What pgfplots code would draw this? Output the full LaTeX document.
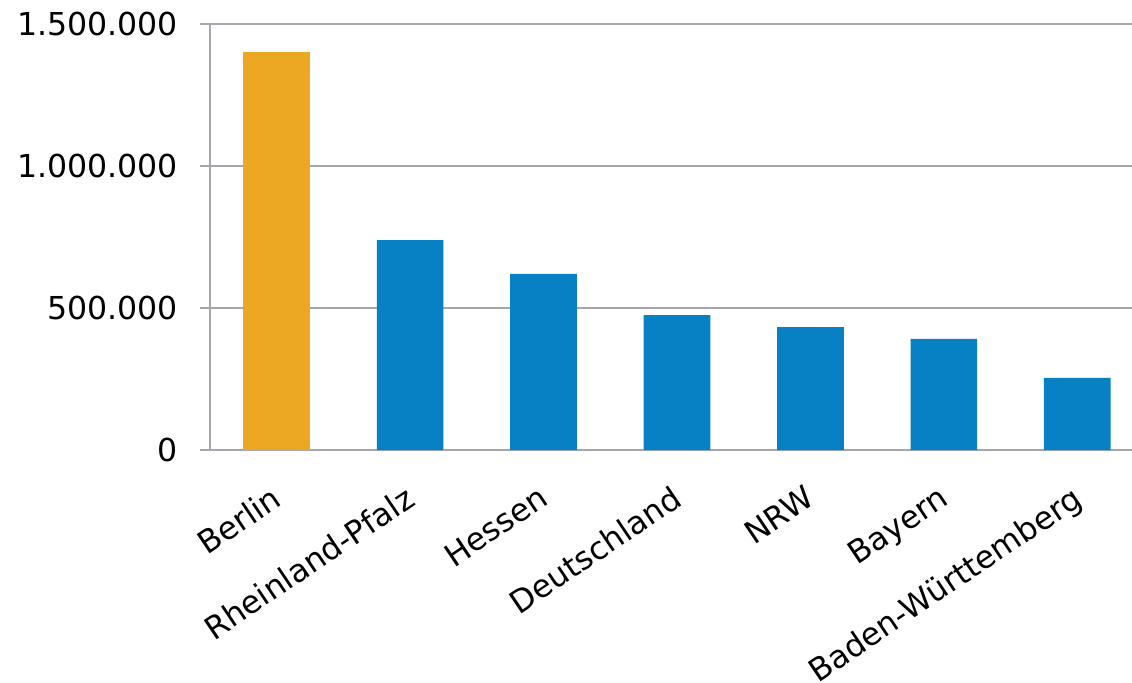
\documentclass[border=0pt]{standalone}
\usepackage{fontspec}
\setmainfont{DejaVu Sans}
\usepackage{pgfplots}
\pgfplotsset{compat=1.18}

\definecolor{barorange}{HTML}{EDA823}
\definecolor{barblue}{HTML}{0781C3}
\definecolor{gridgray}{HTML}{A6A6AE}

\begin{document}
\begin{tikzpicture}
\begin{axis}[
    name=main,
    scale only axis,
    width=461bp, height=213bp,
    xmin=-0.5, xmax=6.41,
    ymin=0, ymax=1500000,
    ybar=0pt,
    bar width=0.5,
    axis lines*=left,
    axis line style={draw=gridgray, line width=1bp, -},
    xtick={0,...,6},
    xticklabels={Berlin,Rheinland-Pfalz,Hessen,Deutschland,NRW,Bayern,Baden-Württemberg},
    x tick style={draw=none},
    extra x ticks={-0.5,0.5,1.5,2.5,3.5,4.5,5.5},
    extra x tick labels={{},{},{},{},{},{},{}},
    extra x tick style={tick style={draw=gridgray, line width=1bp}, major tick length=5bp, tick align=outside, grid=none},
    ytick={0,500000,1000000,1500000},
    yticklabel={\pgfmathprintnumber[assume math mode=true,1000 sep={.},fixed]{\tick}},
    y tick style={draw=gridgray, line width=1bp},
    major tick length=5bp,
    tick align=outside,
    ymajorgrids,
    grid style={draw=gridgray, line width=1bp},
    scaled y ticks=false,
    tick label style={font=\fontsize{15.8bp}{18bp}\selectfont, text=black},
    yticklabel style={xshift=-7.5bp},
    xticklabel style={xshift=-3.25bp, yshift=-11.9bp, rotate=34, anchor=north east, inner sep=0pt},
]
\addplot[fill=barorange, draw=none, bar shift=0pt] coordinates {(0,1401000)};
\addplot[fill=barblue, draw=none, bar shift=0pt] coordinates {
    (1,739000) (2,620000) (3,475000) (4,433000) (5,391000) (6,254000)};
\end{axis}
\pgfresetboundingbox
\path ([shift={(-105bp,-116.5bp)}]main.south west) rectangle ([shift={(461bp,225bp)}]main.south west);
\end{tikzpicture}
\end{document}
